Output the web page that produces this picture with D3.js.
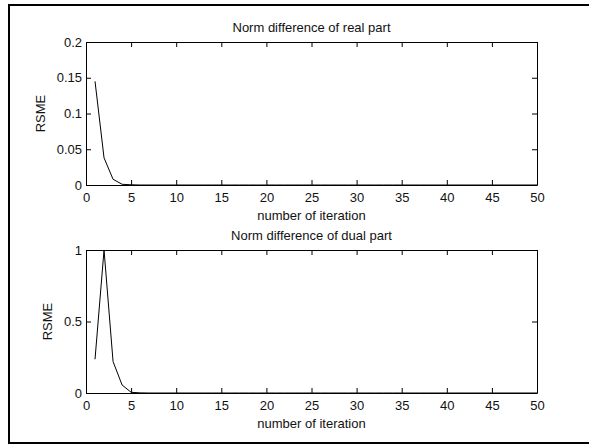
<html>
<script src="https://d3js.org/d3.v7.min.js"></script>
<style>
    body {margin: 0; background: #fff;}
    text {font-family: "Liberation Sans", Arial, sans-serif; font-size: 13px; fill: #111;}
</style>
<body>
<svg width=589 height=445></svg>
<script>
// iteration numbers 1..50
var iterations = [1,2,3,4,5,6,7,8,9,10,11,12,13,14,15,16,17,18,19,20,
                  21,22,23,24,25,26,27,28,29,30,31,32,33,34,35,36,37,38,39,40,
                  41,42,43,44,45,46,47,48,49,50];

var realPart = [0.145,0.038,0.008,0.001,0.0003,0,0,0,0,0,0,0,0,0,0,0,0,0,0,0,
                0,0,0,0,0,0,0,0,0,0,0,0,0,0,0,0,0,0,0,0,
                0,0,0,0,0,0,0,0,0,0];

var dualPart = [0.236,1.0,0.22,0.056,0.005,0.001,0,0,0,0,0,0,0,0,0,0,0,0,0,0,
                0,0,0,0,0,0,0,0,0,0,0,0,0,0,0,0,0,0,0,0,
                0,0,0,0,0,0,0,0,0,0];

var xTicks = [0,5,10,15,20,25,30,35,40,45,50];
var realTicks = [0,0.05,0.1,0.15,0.2];
var dualTicks = [0,0.5,1];

var svg = d3.select('svg');

// outer frame
svg.append('rect')
    .attr('x', 9).attr('y', 5)
    .attr('width', 600).attr('height', 438)
    .attr('fill', 'none').attr('stroke', '#000').attr('stroke-width', 2);

var left = 86, right = 537;
var xs = d3.scaleLinear().domain([0,50]).range([left,right]);

function panel(top, bottom, ymax, yticks, values, title, ylabelX) {
    var ys = d3.scaleLinear().domain([0,ymax]).range([bottom,top]);
    var g = svg.append('g');

    // bottom axis, ticks pointing inward
    g.append('g')
        .attr('transform', 'translate(0,' + bottom + ')')
        .call(d3.axisBottom(xs).tickValues(xTicks).tickSizeInner(-5).tickSizeOuter(0).tickPadding(8).tickFormat(d3.format('d')));
    g.append('g')
        .attr('transform', 'translate(0,' + top + ')')
        .call(d3.axisTop(xs).tickValues(xTicks).tickSizeInner(-5).tickSizeOuter(0).tickFormat(''));
    g.append('g')
        .attr('transform', 'translate(' + left + ',0)')
        .call(d3.axisLeft(ys).tickValues(yticks).tickSizeInner(-5).tickSizeOuter(0).tickPadding(4).tickFormat(d3.format('~g')));
    g.append('g')
        .attr('transform', 'translate(' + right + ',0)')
        .call(d3.axisRight(ys).tickValues(yticks).tickSizeInner(-5).tickSizeOuter(0).tickFormat(''));

    g.selectAll('.domain').attr('stroke', '#000');
    g.selectAll('.tick line').attr('stroke', '#000');
    g.selectAll('.tick text').style('font-size', '13px').attr('fill', '#111');

    g.append('path')
        .datum(values)
        .attr('fill', 'none')
        .attr('stroke', '#000')
        .attr('stroke-width', 1)
        .attr('d', d3.line()
            .x(function(d,i) {return xs(iterations[i]);})
            .y(function(d) {return ys(d);}));

    g.append('text')
        .attr('x', (left+right)/2).attr('y', top - 10.5)
        .style('text-anchor', 'middle')
        .text(title);

    g.append('text')
        .attr('x', (left+right)/2).attr('y', bottom + 35)
        .style('text-anchor', 'middle')
        .text('number of iteration');

    g.append('text')
        .attr('transform', 'translate(' + ylabelX + ',' + ((top+bottom)/2) + ') rotate(-90)')
        .style('text-anchor', 'middle')
        .text('RSME');
}

panel(42, 185, 0.2, realTicks, realPart, 'Norm difference of real part', 45);
panel(250, 393, 1, dualTicks, dualPart, 'Norm difference of dual part', 52);
</script>
</body>
</html>
